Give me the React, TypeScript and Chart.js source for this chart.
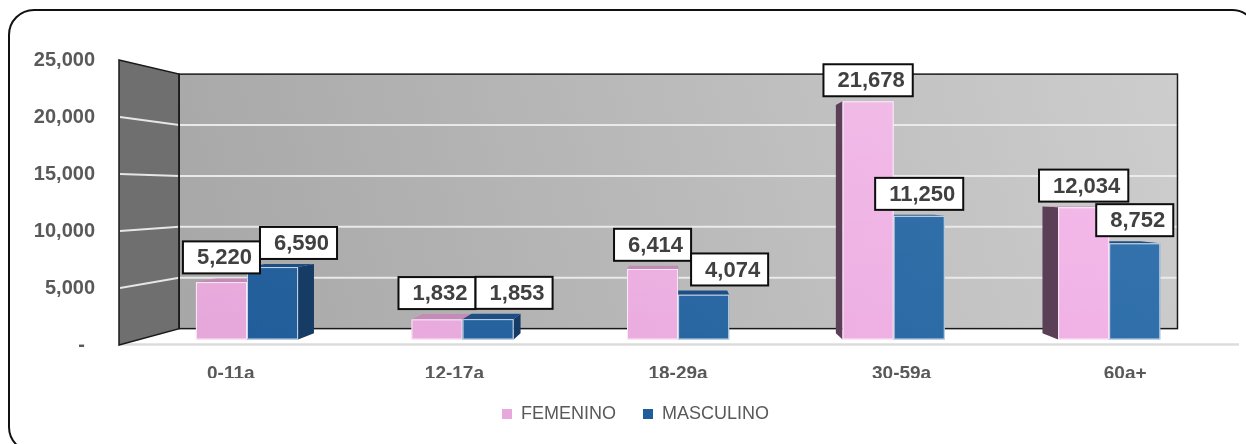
import React, { useEffect, useRef } from 'react';
import { Chart, registerables } from 'chart.js';

Chart.register(...registerables);

// ---- data ----
const categories = ['0-11a', '12-17a', '18-29a', '30-59a', '60a+'];
const femenino = [5220, 1832, 6414, 21678, 12034];
const masculino = [6590, 1853, 4074, 11250, 8752];
const seriesNames = ['FEMENINO', 'MASCULINO'];
const axisMax = 25000;
const axisStep = 5000;

// ---- style ----
const FONT = "'Liberation Sans', Arial, sans-serif";
const K_WALL = 0.107;
const K_FRONT = 0.036;
const K_BACK = 0.076;

const fmt = (v: number) => v.toLocaleString('en-US');

const faceColors = [
  { left: '#e5a6d9', right: '#f3b4e8', sheen: 0.16, side: '#5a3f56', cap: '#c48bb9' },
  { left: '#1f5b98', right: '#3171ac', sheen: 0.05, side: '#163b64', cap: '#1d4f85' },
];

const threeD = {
  id: 'threeD',
  beforeDraw(chart: any) {
    const ctx = chart.ctx;
    ctx.save();
    ctx.fillStyle = '#ffffff';
    ctx.fillRect(0, 0, chart.width, chart.height);
    const x = 9, y = 10, w = 1248, h = 442, r = 25;
    ctx.beginPath();
    ctx.moveTo(x + r, y);
    ctx.lineTo(x + w - r, y);
    ctx.arcTo(x + w, y, x + w, y + r, r);
    ctx.lineTo(x + w, y + h - r);
    ctx.arcTo(x + w, y + h, x + w - r, y + h, r);
    ctx.lineTo(x + r, y + h);
    ctx.arcTo(x, y + h, x, y + h - r, r);
    ctx.lineTo(x, y + r);
    ctx.arcTo(x, y, x + r, y, r);
    ctx.closePath();
    ctx.lineWidth = 2;
    ctx.strokeStyle = '#111111';
    ctx.stroke();
    ctx.restore();
  },
  beforeDatasetsDraw(chart: any) {
    const ctx = chart.ctx;
    const a = chart.chartArea;
    const yScale = chart.scales.y;
    const L = a.left, R = a.right, T = a.top, B = a.bottom;
    const vpX = L + (R - L) * 0.5025;
    const vpY = T + (B - T) * 0.463;
    const P = (x: number, y: number, k: number): [number, number] => [x + (vpX - x) * k, y + (vpY - y) * k];
    const poly = (pts: [number, number][]) => {
      ctx.beginPath();
      ctx.moveTo(pts[0][0], pts[0][1]);
      for (let i = 1; i < pts.length; i++) ctx.lineTo(pts[i][0], pts[i][1]);
      ctx.closePath();
    };

    ctx.save();
    // floor
    poly([[L, B], [R, B], P(R, B, K_WALL), P(L, B, K_WALL)]);
    ctx.fillStyle = '#ffffff';
    ctx.fill();
    ctx.beginPath();
    ctx.moveTo(L, B - 0.5);
    ctx.lineTo(R + 2, B - 0.5);
    ctx.lineWidth = 2.5;
    ctx.strokeStyle = '#dcdcdc';
    ctx.stroke();

    // back wall
    const bTL = P(L, T, K_WALL), bBR = P(R, B, K_WALL);
    const g = ctx.createLinearGradient(bTL[0], bBR[1], bBR[0], bTL[1]);
    g.addColorStop(0, '#a7a7a7');
    g.addColorStop(1, '#cdcdcd');
    ctx.fillStyle = g;
    ctx.fillRect(bTL[0], bTL[1], bBR[0] - bTL[0], bBR[1] - bTL[1]);

    // side wall
    poly([[L, T], P(L, T, K_WALL), P(L, B, K_WALL), [L, B]]);
    ctx.fillStyle = '#6f6f6f';
    ctx.fill();

    // gridlines
    ctx.lineWidth = 2;
    ctx.strokeStyle = 'rgba(236,236,236,0.95)';
    for (let v = axisStep; v < axisMax; v += axisStep) {
      const yp = yScale.getPixelForValue(v);
      const s = P(L, yp, K_WALL), e = P(R, yp, K_WALL);
      ctx.beginPath();
      ctx.moveTo(L + 1, yp);
      ctx.lineTo(s[0], s[1]);
      ctx.lineTo(e[0], e[1]);
      ctx.stroke();
    }

    // borders
    ctx.lineWidth = 1.5;
    ctx.strokeStyle = '#1a1a1a';
    ctx.strokeRect(bTL[0], bTL[1], bBR[0] - bTL[0], bBR[1] - bTL[1]);
    poly([[L, T], P(L, T, K_WALL), P(L, B, K_WALL), [L, B]]);
    ctx.stroke();

    // bars
    const bars: any[] = [];
    chart.data.datasets.forEach((ds: any, di: number) => {
      const meta = chart.getDatasetMeta(di);
      meta.data.forEach((el: any, i: number) => {
        const p = el.getProps(['x', 'y', 'base', 'width'], true);
        bars.push({ di, i, x: p.x, yt: p.y, yb: p.base, w: p.width, value: ds.data[i] });
      });
    });
    const sorted = bars.slice().sort((p, q) => Math.abs(q.x - vpX) - Math.abs(p.x - vpX));
    for (const b of sorted) {
      const c = faceColors[b.di];
      const xl = b.x - b.w / 2, xr = b.x + b.w / 2;
      if (xr < vpX) {
        poly([P(xr, b.yt, K_FRONT), P(xr, b.yt, K_BACK), P(xr, b.yb, K_BACK), P(xr, b.yb, K_FRONT)]);
        ctx.fillStyle = c.side;
        ctx.fill();
      }
      if (xl > vpX) {
        poly([P(xl, b.yt, K_FRONT), P(xl, b.yt, K_BACK), P(xl, b.yb, K_BACK), P(xl, b.yb, K_FRONT)]);
        ctx.fillStyle = c.side;
        ctx.fill();
      }
      if (b.yt > vpY) {
        poly([P(xl, b.yt, K_FRONT), P(xr, b.yt, K_FRONT), P(xr, b.yt, K_BACK), P(xl, b.yt, K_BACK)]);
        ctx.fillStyle = c.cap;
        ctx.fill();
      }
      const f0 = P(xl, b.yt, K_FRONT), f1 = P(xr, b.yb, K_FRONT);
      const fw = f1[0] - f0[0], fh = f1[1] - f0[1];
      const hg = ctx.createLinearGradient(L, 0, R, 0);
      hg.addColorStop(0, c.left);
      hg.addColorStop(1, c.right);
      ctx.fillStyle = hg;
      ctx.fillRect(f0[0], f0[1], fw, fh);
      const vg = ctx.createLinearGradient(0, T, 0, B);
      vg.addColorStop(0, `rgba(255,255,255,${c.sheen})`);
      vg.addColorStop(1, 'rgba(255,255,255,0)');
      ctx.fillStyle = vg;
      ctx.fillRect(f0[0], f0[1], fw, fh);
      ctx.lineWidth = 1;
      ctx.strokeStyle = 'rgba(255,255,255,0.75)';
      ctx.strokeRect(f0[0] + 0.5, f0[1] + 0.5, fw - 1, fh - 1);
      b.labelX = (f0[0] + f1[0]) / 2;
      b.labelBottom = Math.min(f0[1], P(b.x, b.yt, K_BACK)[1]) - 5;
    }

    // data labels
    ctx.font = `bold 22px ${FONT}`;
    ctx.textBaseline = 'middle';
    ctx.textAlign = 'left';
    const boxH = 32;
    for (let i = 0; i < categories.length; i++) {
      let prev: any = null;
      for (const di of [0, 1]) {
        const b = bars.find((q) => q.di === di && q.i === i);
        if (!b) continue;
        const text = fmt(b.value);
        const tw = ctx.measureText(text).width;
        const bw = tw + 22;
        let x0 = b.labelX - bw / 2;
        const y1 = b.labelBottom;
        const y0 = y1 - boxH;
        if (prev && y0 < prev.y1 && y1 > prev.y0 && x0 < prev.x1) x0 = prev.x1;
        ctx.fillStyle = '#ffffff';
        ctx.fillRect(x0, y0, bw, boxH);
        ctx.lineWidth = 2;
        ctx.strokeStyle = '#0d0d0d';
        ctx.strokeRect(x0, y0, bw, boxH);
        ctx.fillStyle = '#404040';
        ctx.fillText(text, x0 + 14, y0 + boxH / 2 + 1);
        prev = { x0, x1: x0 + bw, y0, y1 };
      }
    }
    ctx.restore();
    return false;
  },
};

export default function App() {
  const ref = useRef<HTMLCanvasElement>(null);
  useEffect(() => {
    if (!ref.current) return;
    const chart = new Chart(ref.current, {
      type: 'bar',
      data: {
        labels: categories,
        datasets: [
          { label: seriesNames[0], data: femenino, backgroundColor: '#e7a8db', borderWidth: 0 },
          { label: seriesNames[1], data: masculino, backgroundColor: '#1f5d9b', borderWidth: 0 },
        ],
      },
      options: {
        animation: false,
        responsive: true,
        maintainAspectRatio: false,
        events: [],
        layout: { padding: { left: 34, right: 9, top: 60, bottom: 17 } },
        datasets: { bar: { categoryPercentage: 0.474, barPercentage: 1.0 } },
        scales: {
          x: {
            grid: { display: false, drawTicks: false },
            border: { display: false },
            ticks: { padding: 17, color: '#595959', font: { family: FONT, size: 19, weight: 'bold' } },
            afterFit: (s: any) => { s.height = 33; },
          },
          y: {
            min: 0,
            max: axisMax,
            grid: { display: false, drawTicks: false },
            border: { display: false },
            ticks: {
              stepSize: axisStep,
              padding: 24,
              color: '#595959',
              font: { family: FONT, size: 20, weight: 'bold' },
              callback: (v: any) => (Number(v) === 0 ? '-\u2002' : fmt(Number(v))),
            },
            afterFit: (s: any) => { s.width = 85; },
          },
        },
        plugins: {
          legend: {
            position: 'bottom',
            labels: {
              boxWidth: 10,
              boxHeight: 10,
              padding: 27,
              color: '#595959',
              font: { family: FONT, size: 18 },
            },
          },
          tooltip: { enabled: false },
        },
      },
      plugins: [threeD],
    } as any);
    return () => chart.destroy();
  }, []);
  return (
    <div style={{ position: 'fixed', left: 0, top: 0, width: 1246, height: 444, overflow: 'hidden', background: '#fff' }}>
      <div style={{ position: 'relative', width: 1246, height: 450 }}>
        <canvas ref={ref} />
      </div>
    </div>
  );
}
